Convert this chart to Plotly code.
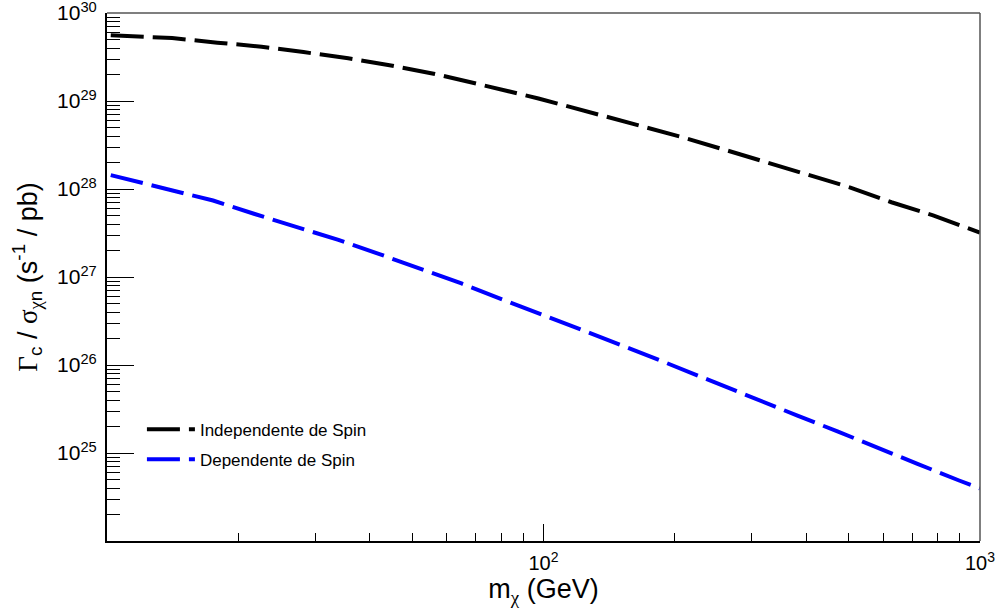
import plotly.graph_objects as go

# --- data ---
mass_si = [10.2, 14.1, 17.9, 22.6, 28.2, 35.7, 44.4, 56.4, 70.9, 97.4, 133.7, 166.5,
           208.2, 259.8, 324.3, 404.7, 505, 627, 781, 1000]
rate_si = [5.6e29, 5.2e29, 4.61e29, 4.15e29, 3.6e29, 3.06e29, 2.55e29, 2.03e29, 1.56e29,
           1.07e29, 7.02e28, 5.26e28, 3.88e28, 2.8e28, 2.01e28, 1.43e28, 1.04e28, 7.08e27,
           5.02e27, 3.2e27]

mass_sd = [10.2, 14.0, 17.5, 21.8, 28.6, 33.9, 42.1, 52.2, 64.9, 80.1, 103, 127.5, 176.5,
           201.7, 249, 308.4, 381.9, 471.6, 582.3, 719.3, 896, 1000]
rate_sd = [1.44e28, 9.8e27, 7.4e27, 5.2e27, 3.47e27, 2.64e27, 1.82e27, 1.25e27, 8.45e26,
           5.6e26, 3.52e26, 2.32e26, 1.24e26, 9.46e25, 6.18e25, 4.1e25, 2.66e25, 1.76e25,
           1.14e25, 7.53e24, 4.87e24, 3.97e24]

names = ["Independente de Spin", "Dependente de Spin"]

x_major = [100, 1000]
x_major_text = ["10<sup>2</sup>", "10<sup>3</sup>"]
x_minor = [d * 10 ** e for e in (1, 2) for d in range(2, 10)]

y_exps = [25, 26, 27, 28, 29, 30]
y_major = [10.0 ** e for e in y_exps]
y_major_text = ["10<sup>%d</sup>" % e for e in y_exps]
y_minor = [d * 10.0 ** e for e in range(24, 30) for d in range(2, 10)]

SANS = "Liberation Sans, Arial, Helvetica, sans-serif"
SERIF = "Liberation Serif"

fig = go.Figure()
fig.add_trace(go.Scatter(x=mass_si, y=rate_si, mode="lines", name=names[0],
                         legendgroup="a", line=dict(color="#000000", width=4, dash="33px,9px")))
fig.add_trace(go.Scatter(x=mass_sd, y=rate_sd, mode="lines", name=names[1],
                         legendgroup="b", line=dict(color="#0000ff", width=4, dash="33px,9px")))

def g(ch):
    return "<span style='font-family:%s'>%s</span>" % (SERIF, ch)

fig.update_layout(
    width=1000, height=608,
    margin=dict(l=107, r=20, t=13, b=67, autoexpand=False),
    paper_bgcolor="white", plot_bgcolor="white",
    font=dict(family=SANS, color="black"),
    showlegend=True,
    legend=dict(x=0.04, y=0.245, xanchor="left", yanchor="top",
                bgcolor="rgba(0,0,0,0)", borderwidth=0,
                font=dict(size=17, family=SANS, color="black"),
                itemwidth=48, tracegroupgap=5, traceorder="grouped"),
    xaxis=dict(
        type="log", range=[1, 3.0002], automargin=False,
        tickmode="array", tickvals=x_major, ticktext=x_major_text,
        ticks="inside", ticklen=17, tickwidth=1, tickcolor="black",
        showline=True, linecolor="black", linewidth=2,
        showgrid=False, zeroline=False,
        tickfont=dict(size=20, family=SANS, color="black"),
        ticklabelstandoff=3, ticklabeloverflow="allow",
        minor=dict(tickmode="array", tickvals=x_minor, ticks="inside", ticklen=8,
                   tickwidth=1, tickcolor="black", showgrid=False),
        title=dict(text="m<sub>" + g("χ") + "</sub> (GeV)",
                   font=dict(size=27, family=SANS, color="black"), standoff=6),
    ),
    yaxis=dict(
        type="log", range=[24, 30.0005], automargin=False,
        tickmode="array", tickvals=y_major, ticktext=y_major_text,
        ticks="inside", ticklen=27, tickwidth=1, tickcolor="black",
        showline=True, linecolor="black", linewidth=2,
        showgrid=False, zeroline=False,
        tickfont=dict(size=21, family=SANS, color="black"),
        ticklabelstandoff=4, ticklabeloverflow="allow",
        minor=dict(tickmode="array", tickvals=y_minor, ticks="inside", ticklen=13,
                   tickwidth=1, tickcolor="black", showgrid=False),
        title=dict(text=g("Γ") + "<sub>c</sub> / " + g("σ") + "<sub>" + g("χ") + "n</sub> (s<sup>-1</sup> / pb)",
                   font=dict(size=27, family=SANS, color="black"), standoff=12),
    ),
    shapes=[
        dict(type="line", xref="paper", yref="paper", x0=0, x1=1, y0=1, y1=1,
             line=dict(color="#555555", width=1.5)),
        dict(type="line", xref="paper", yref="paper", x0=1, x1=1, y0=0, y1=1,
             line=dict(color="#555555", width=1.5)),
    ],
)

fig.write_html("out.html")
